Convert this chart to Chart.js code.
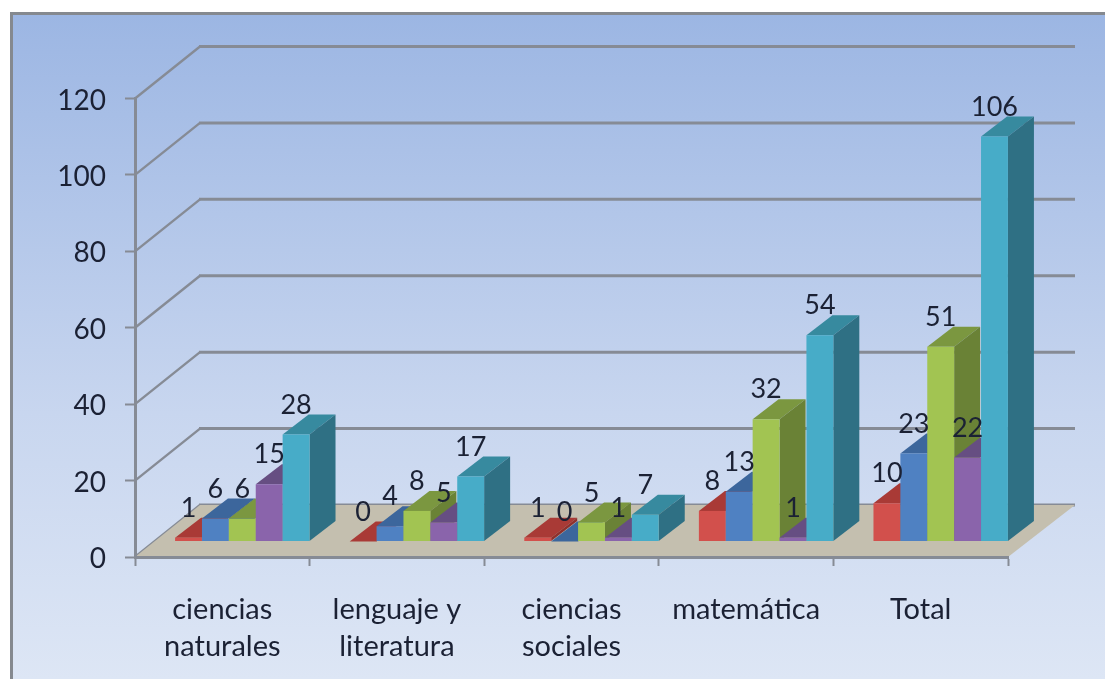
<!DOCTYPE html>
<html>
<head>
<meta charset="utf-8">
<title>Grafico</title>
<script src="https://cdn.jsdelivr.net/npm/chart.js@4"></script>
<style>
  html, body { margin: 0; padding: 0; background: #fff; overflow: hidden; }
  #fondo {
    position: absolute; left: 10px; top: 12px; width: 1095px; height: 667px;
    box-sizing: border-box; border-left: 3px solid #85898f; border-top: 3px solid #85898f;
    background: linear-gradient(to bottom, #9cb6e3 0%, #c8d6ef 60%, #dde6f5 100%);
  }
  #grafico { position: absolute; left: 0; top: 0; }
</style>
</head>
<body>
<div id="fondo"></div>
<canvas id="grafico" width="1105" height="679"></canvas>
<script>
const categorias = [
  ["ciencias", "naturales"],
  ["lenguaje y", "literatura"],
  ["ciencias", "sociales"],
  "matemática",
  "Total",
];
const serie1 = [1, 0, 1, 8, 10];
const serie2 = [6, 4, 0, 13, 23];
const serie3 = [6, 8, 5, 32, 51];
const serie4 = [15, 5, 1, 1, 22];
const serie5 = [28, 17, 7, 54, 106];

const series = [serie1, serie2, serie3, serie4, serie5];

// front, top, side
const colores = [
  ["#d2504c", "#a93a36", "#8f302d"],
  ["#4f81c2", "#3c669c", "#335684"],
  ["#a2c452", "#7b9740", "#6a8236"],
  ["#8a64ab", "#664e82", "#584470"],
  ["#47acc8", "#378a9f", "#2f7084"],
];

const fuente = "Lato, Carlito, sans-serif";
const colorTexto = "#1b2134";
const colorLinea = "#868b95";

// depth of the wall and of the bars
const paredX = 65, paredY = -52;
const frenteX = 20, frenteY = -15.5;
const fondoBarraX = 26, fondoBarraY = -20;

function poligono(ctx, puntos, color) {
  ctx.fillStyle = color;
  ctx.beginPath();
  puntos.forEach((p, i) => (i ? ctx.lineTo(p[0], p[1]) : ctx.moveTo(p[0], p[1])));
  ctx.closePath();
  ctx.fill();
}

const paredes = {
  id: "paredes",
  beforeDraw(chart) {
    const ctx = chart.ctx;
    const a = chart.chartArea;
    const y = chart.scales.y;

    ctx.save();
    ctx.strokeStyle = colorLinea;
    y.ticks.forEach((t) => {
      const py = y.getPixelForValue(t.value);
      ctx.lineWidth = 2.4;
      ctx.beginPath();
      ctx.moveTo(a.left, py);
      ctx.lineTo(a.left + paredX, py + paredY);
      ctx.stroke();
      ctx.lineWidth = 3;
      ctx.beginPath();
      ctx.moveTo(a.left + paredX - 1, py + paredY);
      ctx.lineTo(a.right + paredX + 2, py + paredY);
      ctx.stroke();
    });

    // floor
    const base = y.getPixelForValue(0);
    poligono(ctx, [
      [a.left, base],
      [a.right, base],
      [a.right + paredX + 2, base + paredY],
      [a.left + paredX, base + paredY],
    ], "#c4bfaf");
    ctx.restore();
  },
  beforeDatasetsDraw(chart) {
    const ctx = chart.ctx;
    ctx.save();
    ctx.translate(frenteX, frenteY);

    // left to right so each bar hides the side of the one before
    series.forEach((valores, i) => {
      const meta = chart.getDatasetMeta(i);
      meta.data.forEach((barra) => {
        const izq = barra.x - barra.width / 2;
        const der = barra.x + barra.width / 2;
        poligono(ctx, [
          [izq, barra.y],
          [der, barra.y],
          [der + fondoBarraX, barra.y + fondoBarraY],
          [izq + fondoBarraX, barra.y + fondoBarraY],
        ], colores[i][1]);
        poligono(ctx, [
          [der, barra.y],
          [der + fondoBarraX, barra.y + fondoBarraY],
          [der + fondoBarraX, barra.base + fondoBarraY],
          [der, barra.base],
        ], colores[i][2]);
      });
      meta.controller.draw();
    });

    ctx.fillStyle = colorTexto;
    ctx.font = "27px " + fuente;
    ctx.textAlign = "center";
    ctx.textBaseline = "middle";
    series.forEach((valores, i) => {
      chart.getDatasetMeta(i).data.forEach((barra, j) => {
        ctx.fillText(valores[j], barra.x, barra.y - 29.5);
      });
    });
    ctx.restore();
    return false;
  },
};

new Chart(document.getElementById("grafico"), {
  type: "bar",
  data: {
    labels: categorias,
    datasets: series.map((valores, i) => ({
      label: "serie " + (i + 1),
      data: valores,
      backgroundColor: colores[i][0],
      borderWidth: 0,
      barPercentage: 1,
      categoryPercentage: 0.77,
    })),
  },
  options: {
    responsive: false,
    animation: false,
    layout: { padding: { top: 98.5, right: 97, left: 0, bottom: 0 } },
    plugins: { legend: { display: false }, tooltip: { enabled: false } },
    scales: {
      x: {
        afterFit(scale) { scale.height = 122; },
        border: { color: colorLinea, width: 3 },
        grid: { drawOnChartArea: false, tickColor: colorLinea, tickLength: 9, tickWidth: 2 },
        ticks: {
          color: colorTexto,
          font: { family: fuente, size: 29, lineHeight: 1.28 },
          padding: 25,
          maxRotation: 0,
          autoSkip: false,
        },
      },
      y: {
        min: 0,
        max: 120,
        afterFit(scale) { scale.width = 135; },
        border: { color: colorLinea, width: 3 },
        grid: { drawOnChartArea: false, tickColor: colorLinea, tickLength: 10, tickWidth: 2 },
        ticks: {
          stepSize: 20,
          color: colorTexto,
          font: { family: fuente, size: 28 },
          padding: 19,
          labelOffset: 2,
        },
      },
    },
  },
  plugins: [paredes],
});
</script>
</body>
</html>
